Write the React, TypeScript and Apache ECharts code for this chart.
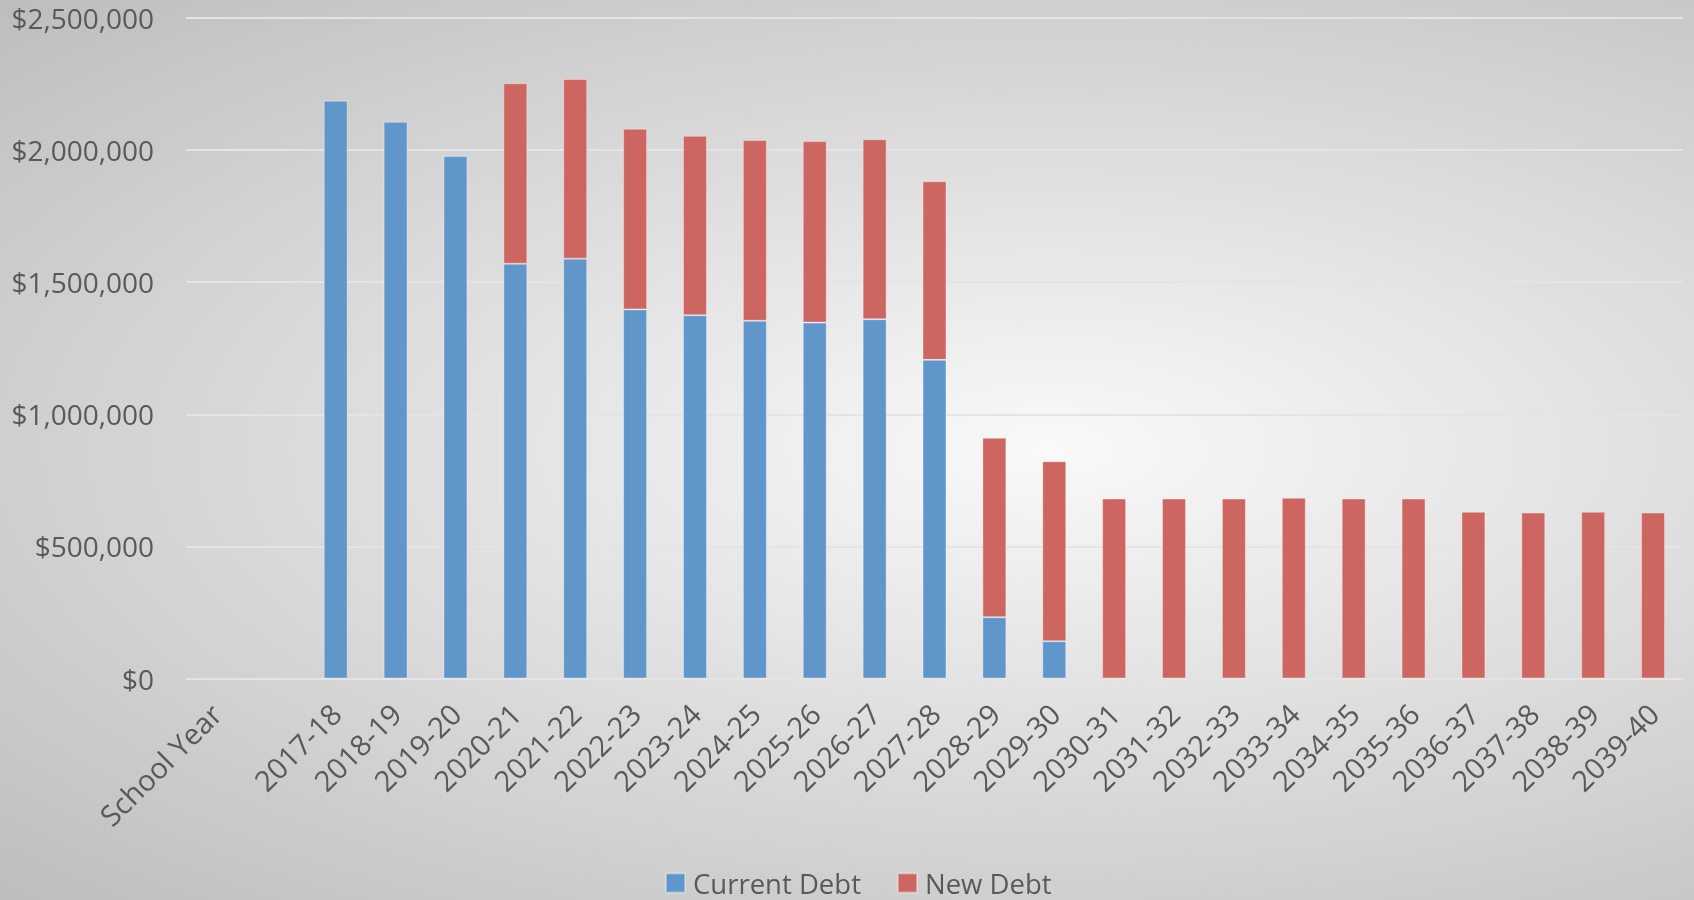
import React, { useEffect, useRef } from "react";
import * as echarts from "echarts";

const categories = [
  "School Year", "",
  "2017-18", "2018-19", "2019-20", "2020-21", "2021-22", "2022-23", "2023-24",
  "2024-25", "2025-26", "2026-27", "2027-28", "2028-29", "2029-30", "2030-31",
  "2031-32", "2032-33", "2033-34", "2034-35", "2035-36", "2036-37", "2037-38",
  "2038-39", "2039-40",
];

const currentDebt = [
  null, null,
  2187000, 2107000, 1978000, 1570000, 1589000, 1397000, 1375000,
  1354000, 1347000, 1360000, 1206000, 232000, 141000, null,
  null, null, null, null, null, null, null,
  null, null,
];

const newDebt = [
  null, null,
  null, null, null, 683000, 680000, 684000, 679000,
  684000, 687000, 681000, 676000, 679000, 681000, 681000,
  681000, 681000, 684000, 681000, 681000, 631000, 628000,
  631000, 628000,
];

const yTicks = [0, 500000, 1000000, 1500000, 2000000, 2500000];

const FONT = "'Open Sans', Lato, sans-serif";

export default function App() {
  const ref = useRef<HTMLDivElement>(null);
  useEffect(() => {
    if (!ref.current) return;
    const chart = echarts.init(ref.current, undefined, { renderer: "svg" });
    const fmt = (v: number) => "$" + v.toLocaleString("en-US");
    chart.setOption({
      animation: false,
      backgroundColor: "transparent",
      textStyle: { fontFamily: FONT },
      grid: { left: 186, right: 11, top: 18, bottom: 221.5, containLabel: false },
      legend: {
        bottom: -2,
        left: 660,
        itemWidth: 19,
        itemHeight: 19,
        itemGap: 36,
        icon: "rect",
        textStyle: { fontSize: 27.5, color: "#595959", fontFamily: FONT, padding: [0, 0, 0, 3] },
        data: ["Current Debt", "New Debt"],
      },
      xAxis: {
        type: "category",
        data: categories,
        axisLine: { show: false },
        axisTick: { show: false },
        axisLabel: {
          interval: 0,
          rotate: 45,
          fontSize: 29,
          color: "#595959",
          margin: 30,
          fontFamily: FONT,
        },
      },
      yAxis: {
        type: "value",
        min: 0,
        max: 2500000,
        interval: 500000,
        axisLine: { show: false },
        axisTick: { show: false },
        axisLabel: {
          fontSize: 28,
          color: "#595959",
          margin: 32,
          fontFamily: FONT,
          formatter: (v: number) => (yTicks.includes(v) ? fmt(v) : ""),
        },
        splitLine: { lineStyle: { color: "#e4e4e4", width: 2 } },
      },
      series: [
        {
          name: "Current Debt",
          type: "bar",
          stack: "debt",
          data: currentDebt,
          barWidth: "40%",
          itemStyle: { color: "#6096ca", borderColor: "rgba(255,255,255,0.35)", borderWidth: 1 },
        },
        {
          name: "New Debt",
          type: "bar",
          stack: "debt",
          data: newDebt,
          barWidth: "40%",
          itemStyle: { color: "#cd6660", borderColor: "rgba(255,255,255,0.35)", borderWidth: 1 },
        },
      ],
    });
    return () => chart.dispose();
  }, []);
  return (
    <div
      ref={ref}
      style={{
        position: "fixed",
        left: 0,
        top: 0,
        width: 1694,
        height: 900,
        background: "radial-gradient(ellipse farthest-corner at 62% 50%, #f9f9f9 0%, #bdbdbd 100%)",
      }}
    />
  );
}
